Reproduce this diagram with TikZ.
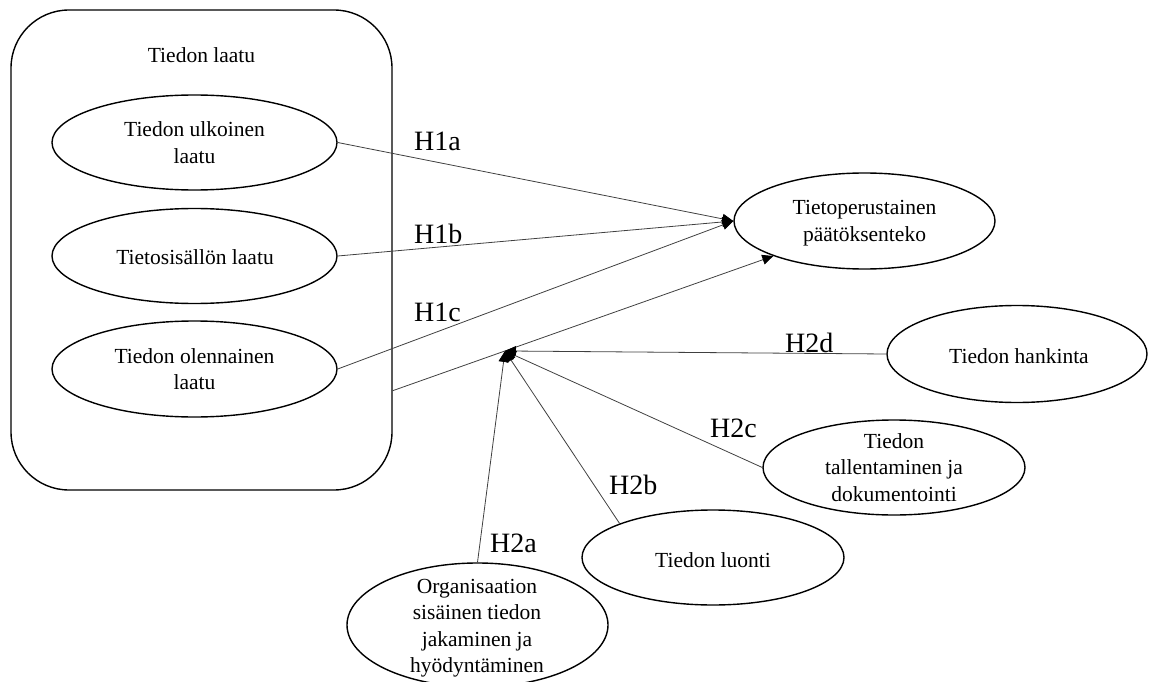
\documentclass[tikz,border=0pt]{standalone}
\usepackage{fontspec}
\setmainfont{Liberation Serif}
\usetikzlibrary{shapes.geometric,arrows.meta,calc}
\begin{document}
\begin{tikzpicture}[x=1pt,y=-1pt,
  ell/.style={draw, ellipse, line width=1.4pt, inner sep=0pt, minimum width=261pt, minimum height=95pt},
  txt/.style={align=center, inner sep=0pt, font=\fontsize{21.5}{26.5}\selectfont},
  hyp/.style={anchor=base west, inner sep=0pt, font=\fontsize{28}{32}\selectfont},
  link/.style={line width=0.8pt, black!75},
  arr/.style={link, -{Triangle[length=11pt,width=10pt,color=black]}}]
\useasboundingbox (0,0) rectangle (1149,682);

% frame around the quality dimensions
\node[draw, line width=1.4pt, rounded corners=58pt, minimum width=381pt,
      minimum height=480pt, inner sep=0pt] (box) at (201.5,250) {};
\node[txt, anchor=base] (title) at (201.5,63) {Tiedon laatu};

% quality dimensions
\node[ell, minimum width=285pt] (e1) at (194.5,142.5) {};
\node[txt] (t1) at (e1) {Tiedon ulkoinen\\laatu};
\node[ell, minimum width=285pt] (e2) at (194.5,256) {};
\node[txt, anchor=base] (t2) at (195,264) {Tietosisällön laatu};
\node[ell, minimum width=285pt, minimum height=96pt] (e3) at (194.5,369) {};
\node[txt] (t3) at (e3) {Tiedon olennainen\\laatu};

% outcome
\node[ell, minimum height=96pt] (tp) at (864.5,221) {};
\node[txt] (ttp) at (864.5,223) {Tietoperustainen\\päätöksenteko};

% knowledge processes
\node[ell, minimum width=260pt, minimum height=97pt] (hk) at (1017,354) {};
\node[txt, anchor=base] (thk) at (1019,363) {Tiedon hankinta};
\node[ell, minimum width=262pt] (tl) at (894,467.5) {};
\node[txt] (ttl) at (tl) {Tiedon\\tallentaminen ja\\dokumentointi};
\node[ell, minimum width=262pt] (lu) at (713,557.5) {};
\node[txt, anchor=base] (tlu) at (713,567) {Tiedon luonti};
\node[ell, minimum height=124pt] (org) at (477.5,625) {};
\node[txt] (torg) at (477,628) {Organisaation\\sisäinen tiedon\\jakaminen ja\\hyödyntäminen};

% direct effects
\draw[arr] (e1.east) -- (tp.west);
\draw[arr] (e2.east) -- (tp.west);
\draw[arr] (e3.east) -- (tp.west);
\coordinate (s) at ($(box.south east)+(0,-100)$);
\coordinate (j) at ($(s)!0.295!(tp.201)$);
\draw[arr] (s) -- (tp.201);

% moderating effects
\draw[arr] (hk.west) -- (j);
\draw[arr] (tl.west) -- (j);
\draw[arr] (lu.160) -- (j);
\draw[arr] (org.north) -- (j);

% hypothesis labels
\node[hyp] (h1a) at (414,150.7) {H1a};
\node[hyp] (h1b) at (414,243) {H1b};
\node[hyp] (h1c) at (414,321) {H1c};
\node[hyp] (h2d) at (785,352) {H2d};
\node[hyp] (h2c) at (710,437) {H2c};
\node[hyp] (h2b) at (609,494) {H2b};
\node[hyp] (h2a) at (490,552) {H2a};
\end{tikzpicture}
\end{document}
